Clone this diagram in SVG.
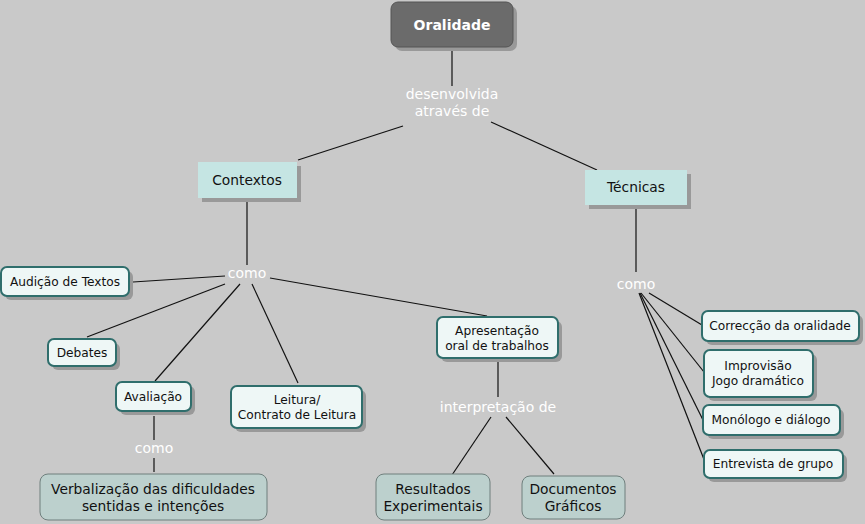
<svg xmlns="http://www.w3.org/2000/svg" width="865" height="524" viewBox="0 0 865 524">
<style>
text{font-family:"DejaVu Sans",Verdana,sans-serif;text-anchor:middle}
.lbl{fill:#ffffff;font-size:14px}
.sh{fill:#999999}
.rn{fill:#eef7f6;stroke:#2f6e6c;stroke-width:2}
.sq{fill:#c5e5e3;stroke:none}
.bt{fill:#bcd0cd;stroke:#6f7f7d;stroke-width:1}
.t11{font-size:12.2px;fill:#111}
.t13{font-size:13.8px;fill:#111}
.ln{stroke:#111;stroke-width:1.2;fill:none}
</style>
<rect width="865" height="524" fill="#c9c9c9"/>
<g id="connectors">
<line class="ln" x1="452" y1="48" x2="452" y2="86"/>
<line class="ln" x1="403" y1="126" x2="298" y2="160"/>
<line class="ln" x1="491" y1="122" x2="597" y2="170"/>
<line class="ln" x1="247" y1="200" x2="247" y2="265"/>
<line class="ln" x1="225" y1="276" x2="133" y2="282"/>
<line class="ln" x1="225" y1="284" x2="87" y2="337"/>
<line class="ln" x1="240" y1="284" x2="155" y2="381"/>
<line class="ln" x1="252" y1="284" x2="298" y2="383"/>
<line class="ln" x1="270" y1="278" x2="487" y2="316"/>
<line class="ln" x1="154" y1="416" x2="154" y2="440"/>
<line class="ln" x1="154" y1="458" x2="154" y2="472"/>
<line class="ln" x1="498" y1="362" x2="498" y2="397"/>
<line class="ln" x1="491" y1="417" x2="452" y2="475"/>
<line class="ln" x1="506" y1="417" x2="554" y2="474"/>
<line class="ln" x1="636" y1="207" x2="636" y2="272"/>
<line class="ln" x1="649" y1="293" x2="702" y2="325"/>
<line class="ln" x1="641" y1="293" x2="704" y2="372"/>
<line class="ln" x1="640" y1="293" x2="703" y2="420"/>
<line class="ln" x1="639" y1="293" x2="705" y2="462"/>
</g>
<g id="oralidade">
<rect x="395" y="6" width="122" height="45" rx="7" class="sh"/>
<rect x="391" y="2" width="122" height="45" rx="7" fill="#6b6b6b" stroke="#555" stroke-width="1"/>
<text x="452" y="30" font-size="14" font-weight="bold" fill="#fff">Oralidade</text>
</g>
<g id="lbl-desenvolvida">
<text class="lbl" x="452" y="99">desenvolvida</text>
<text class="lbl" x="452" y="116">através de</text>
</g>
<g id="contextos">
<rect x="202" y="166" width="99" height="36" class="sh"/>
<rect x="198" y="162" width="99" height="36" class="sq"/>
<text class="t13" x="247" y="185">Contextos</text>
</g>
<g id="tecnicas">
<rect x="589" y="174" width="102" height="35" class="sh"/>
<rect x="585" y="170" width="102" height="35" class="sq"/>
<text class="t13" x="636" y="192">Técnicas</text>
</g>
<g id="lbl-como1"><text class="lbl" x="247" y="278">como</text></g>
<g id="lbl-como2"><text class="lbl" x="154" y="453">como</text></g>
<g id="lbl-como3"><text class="lbl" x="636" y="289">como</text></g>
<g id="lbl-interp"><text class="lbl" x="498" y="412">interpretação de</text></g>
<g id="audicao">
<rect x="5" y="271" width="128" height="29" rx="6" class="sh"/>
<rect x="1" y="267" width="128" height="29" rx="6" class="rn"/>
<text class="t11" x="65" y="286">Audição de Textos</text>
</g>
<g id="debates">
<rect x="52" y="343" width="68" height="27" rx="6" class="sh"/>
<rect x="48" y="339" width="68" height="27" rx="6" class="rn"/>
<text class="t11" x="82" y="357">Debates</text>
</g>
<g id="avaliacao">
<rect x="120" y="386" width="75" height="29" rx="6" class="sh"/>
<rect x="116" y="382" width="75" height="29" rx="6" class="rn"/>
<text class="t11" x="153" y="401">Avaliação</text>
</g>
<g id="leitura">
<rect x="235" y="390" width="131" height="42" rx="6" class="sh"/>
<rect x="231" y="386" width="131" height="42" rx="6" class="rn"/>
<text class="t11" x="297" y="404">Leitura/</text>
<text class="t11" x="297" y="419">Contrato de Leitura</text>
</g>
<g id="apresentacao">
<rect x="441" y="321" width="121" height="41" rx="6" class="sh"/>
<rect x="437" y="317" width="121" height="41" rx="6" class="rn"/>
<text class="t11" x="497" y="335">Apresentação</text>
<text class="t11" x="497" y="350">oral de trabalhos</text>
</g>
<g id="verbalizacao">
<rect x="40" y="474" width="227" height="46" rx="8" class="bt"/>
<text class="t13" x="153" y="494">Verbalização das dificuldades</text>
<text class="t13" x="153" y="511">sentidas e intenções</text>
</g>
<g id="resultados">
<rect x="376" y="474" width="114" height="46" rx="8" class="bt"/>
<text class="t13" x="433" y="494">Resultados</text>
<text class="t13" x="433" y="511">Experimentais</text>
</g>
<g id="documentos">
<rect x="522" y="476" width="103" height="43" rx="8" class="bt"/>
<text class="t13" x="573" y="494">Documentos</text>
<text class="t13" x="573" y="511">Gráficos</text>
</g>
<g id="correccao">
<rect x="706" y="315" width="157" height="30" rx="6" class="sh"/>
<rect x="702" y="311" width="157" height="30" rx="6" class="rn"/>
<text class="t11" x="780" y="330">Correcção da oralidade</text>
</g>
<g id="improvisao">
<rect x="708" y="354" width="109" height="47" rx="6" class="sh"/>
<rect x="704" y="350" width="109" height="47" rx="6" class="rn"/>
<text class="t11" x="758" y="370">Improvisão</text>
<text class="t11" x="758" y="385">Jogo dramático</text>
</g>
<g id="monologo">
<rect x="707" y="409" width="137" height="30" rx="6" class="sh"/>
<rect x="703" y="405" width="137" height="30" rx="6" class="rn"/>
<text class="t11" x="771" y="424">Monólogo e diálogo</text>
</g>
<g id="entrevista">
<rect x="708" y="454" width="139" height="28" rx="6" class="sh"/>
<rect x="704" y="450" width="139" height="28" rx="6" class="rn"/>
<text class="t11" x="773" y="468">Entrevista de grupo</text>
</g>
</svg>
